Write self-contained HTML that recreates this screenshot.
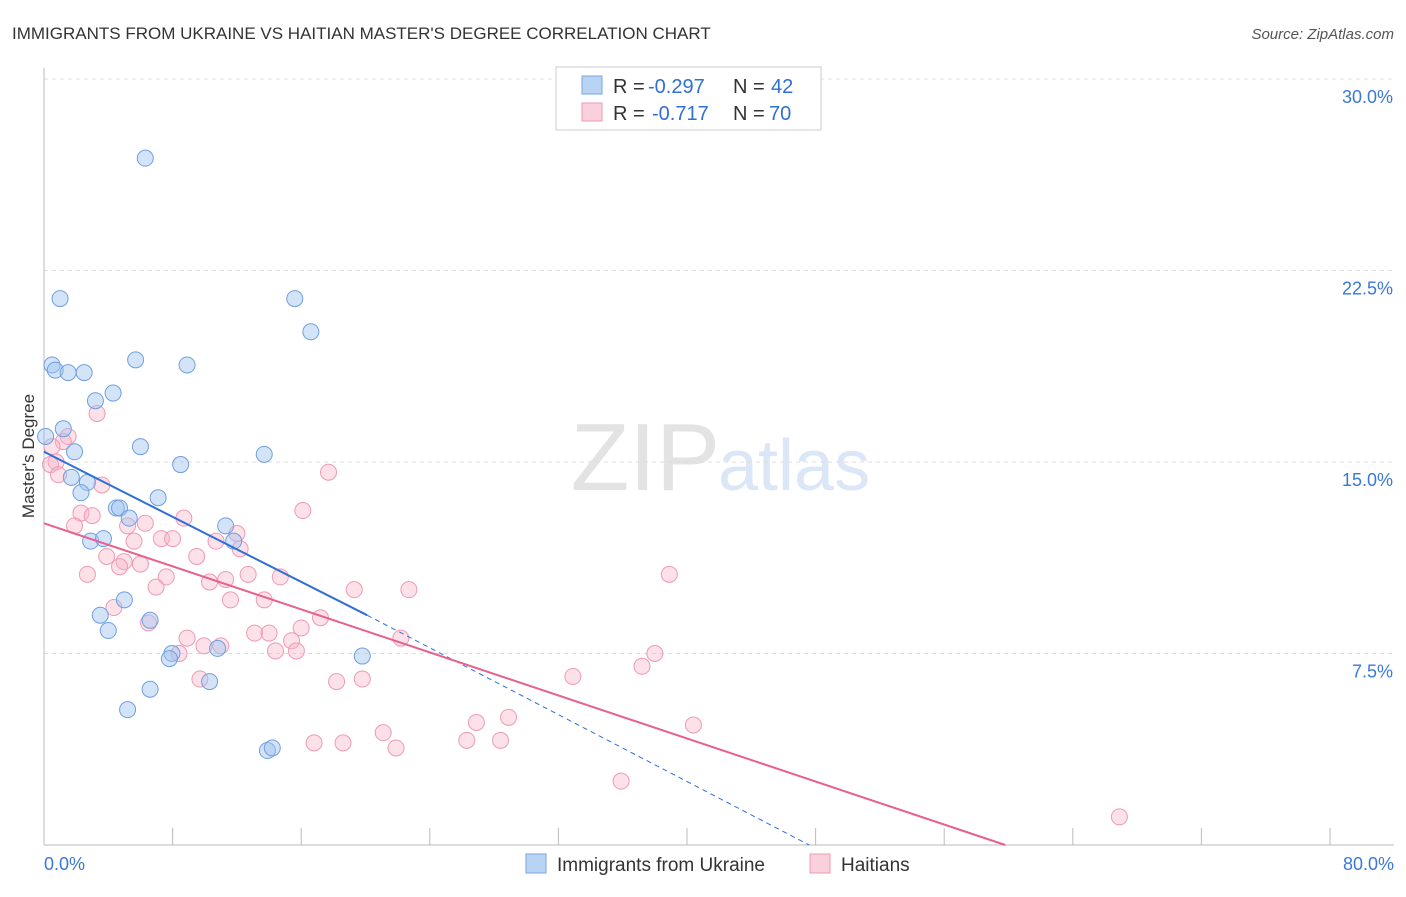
<!DOCTYPE html>
<html><head><meta charset="utf-8">
<style>
body{margin:0;background:#fff;font-family:"Liberation Sans",sans-serif;}
svg text{font-family:"Liberation Sans",sans-serif;}
</style></head>
<body>
<svg id="chart" width="1406" height="892" viewBox="0 0 1406 892" xmlns="http://www.w3.org/2000/svg">
<text x="12" y="39" font-size="17" fill="#333">IMMIGRANTS FROM UKRAINE VS HAITIAN MASTER'S DEGREE CORRELATION CHART</text>
<text x="1394" y="39" font-size="15" fill="#555" text-anchor="end" font-style="italic">Source: ZipAtlas.com</text>
<text x="720" y="490" font-size="96" fill="#e3e3e3" text-anchor="end" font-family="Liberation Serif">ZIP</text>
<text x="718" y="490" font-size="72" fill="#dbe7f6">atlas</text>
<text transform="translate(34,456) rotate(-90)" font-size="17" fill="#333" text-anchor="middle">Master's Degree</text>
<g id="grid"></g>
<g id="axes"></g>
<g id="pts"></g>
<g id="trend"></g>
<g>
<rect x="556" y="67" width="265" height="63" fill="#fff" stroke="#ccc"/>
<rect x="582" y="76" width="20" height="18" fill="#b9d3f5" stroke="#7ba6e0"/>
<rect x="582" y="103" width="20" height="18" fill="#fbd0dd" stroke="#ee9ab4"/>
<text x="613" y="93" font-size="20" fill="#333">R =</text>
<text x="648" y="93" font-size="20" fill="#2f6fd6">-0.297</text>
<text x="733" y="93" font-size="20" fill="#333">N =</text>
<text x="771" y="93" font-size="20" fill="#2f6fd6">42</text>
<text x="613" y="120" font-size="20" fill="#333">R =</text>
<text x="652" y="120" font-size="20" fill="#2f6fd6">-0.717</text>
<text x="733" y="120" font-size="20" fill="#333">N =</text>
<text x="769" y="120" font-size="20" fill="#2f6fd6">70</text>
</g>
<g>
<rect x="526" y="854" width="20" height="19" fill="#b9d3f5" stroke="#7ba6e0"/>
<text x="557" y="871" font-size="19" fill="#333">Immigrants from Ukraine</text>
<rect x="810" y="854" width="20" height="19" fill="#fbd0dd" stroke="#ee9ab4"/>
<text x="841" y="871" font-size="19" fill="#333">Haitians</text>
</g>
</svg>
<script>
const yTicks=[7.5,15,22.5,30];
const yTickLabels=["7.5%","15.0%","22.5%","30.0%"];
const xTicks=[0,8,16,24,32,40,48,56,64,72,80];
const ukraineX=[6.3,1.0,15.6,16.6,0.5,0.7,1.5,2.5,5.7,8.9,4.3,3.2,1.2,0.1,1.9,6.0,13.7,8.5,1.7,2.7,2.3,7.1,4.5,4.7,5.3,11.3,11.8,2.9,3.7,5.0,3.5,4.0,6.6,7.96,7.8,10.8,10.3,6.6,19.8,5.2,13.9,14.2];
const ukraineY=[26.9,21.4,21.4,20.1,18.8,18.6,18.5,18.5,19.0,18.8,17.7,17.4,16.3,16.0,15.4,15.6,15.3,14.9,14.4,14.2,13.8,13.6,13.2,13.2,12.8,12.5,11.9,11.9,12.0,9.6,9.0,8.4,8.8,7.5,7.3,7.7,6.4,6.1,7.4,5.3,3.7,3.8];
const haitiX=[3.3,1.5,1.2,0.5,0.75,0.4,0.9,3.6,2.3,3.0,1.9,6.3,5.2,8.7,12.0,16.1,17.7,5.6,7.3,8.0,10.7,12.2,3.9,4.98,4.7,6.0,2.7,7.6,9.5,12.7,14.7,11.3,10.3,6.97,19.3,22.7,38.9,4.35,11.6,13.7,6.5,17.2,16.0,13.1,14.0,22.2,8.9,15.4,9.95,11.0,8.4,14.4,15.7,38.0,37.2,9.7,18.2,19.8,32.9,28.9,26.9,40.4,21.1,16.8,18.6,21.9,26.3,28.4,35.9,66.9];
const haitiY=[16.9,16.0,15.8,15.6,15.0,14.9,14.5,14.1,13.0,12.9,12.5,12.6,12.5,12.8,12.2,13.1,14.6,11.9,12.0,12.0,11.9,11.6,11.3,11.1,10.9,11.0,10.6,10.5,11.3,10.6,10.5,10.4,10.3,10.1,10.0,10.0,10.6,9.3,9.6,9.6,8.7,8.9,8.5,8.3,8.3,8.1,8.1,8.0,7.8,7.8,7.5,7.6,7.6,7.5,7.0,6.5,6.4,6.5,6.6,5.0,4.8,4.7,4.4,4.0,4.0,3.8,4.1,4.1,2.5,1.1];
const ukraineTrend=[[0,15.4],[20.1,9.0]];
const ukraineDash=[[20.1,9.0],[47.6,0]];
const haitiTrend=[[0,12.6],[59.8,0]];
const X0=44,X1=1330,Y0=845,YS=(845-79)/30;
const sx=v=>X0+v*(X1-X0)/80, sy=v=>Y0-v*YS;
const NS="http://www.w3.org/2000/svg";
function mk(t,a,p){const e=document.createElementNS(NS,t);for(const k in a)e.setAttribute(k,a[k]);p.appendChild(e);return e;}
const grid=document.getElementById('grid'),axes=document.getElementById('axes'),pts=document.getElementById('pts'),tr=document.getElementById('trend');
yTicks.forEach((v,i)=>{
 const l=mk('line',{x1:44,x2:1394,y1:sy(v),y2:sy(v),stroke:'#ddd','stroke-dasharray':'4,4'},grid);
 
 
 const t=mk('text',{x:1393,y:sy(v)+24,'font-size':18,fill:'#3a78d8','text-anchor':'end'},axes);
 t.textContent=yTickLabels[i];
 
 
});
const xl=mk('line',{x1:44,x2:1394,y1:845,y2:845,stroke:'#bbb'},axes);


const yl=mk('line',{x1:44,x2:44,y1:68,y2:845,stroke:'#bbb'},axes);


xTicks.forEach(v=>{
 const l=mk('line',{x1:sx(v),x2:sx(v),y1:828,y2:845,stroke:'#bbb'},axes);
 
 
});
const xa=mk('text',{x:44,y:870,'font-size':18,fill:'#3a78d8'},axes);xa.textContent='0.0%';


const xb=mk('text',{x:1394,y:870,'font-size':18,fill:'#3a78d8','text-anchor':'end'},axes);xb.textContent='80.0%';


haitiX.forEach((x,i)=>{
 const c=mk('circle',{cx:sx(x),cy:sy(haitiY[i]),r:8,fill:'rgba(248,180,200,0.4)',stroke:'#ee9ab4','stroke-width':1},pts);
 
 
});
ukraineX.forEach((x,i)=>{
 const c=mk('circle',{cx:sx(x),cy:sy(ukraineY[i]),r:8,fill:'rgba(160,195,240,0.45)',stroke:'#6f9fe0','stroke-width':1},pts);
 
 
});
const l1=mk('line',{x1:sx(ukraineTrend[0][0]),y1:sy(ukraineTrend[0][1]),x2:sx(ukraineTrend[1][0]),y2:sy(ukraineTrend[1][1]),stroke:'#2f6fd6','stroke-width':2},tr);


const l2=mk('line',{x1:sx(ukraineDash[0][0]),y1:sy(ukraineDash[0][1]),x2:sx(ukraineDash[1][0]),y2:sy(ukraineDash[1][1]),stroke:'#2f6fd6','stroke-width':1,'stroke-dasharray':'5,4'},tr);


const l3=mk('line',{x1:sx(haitiTrend[0][0]),y1:sy(haitiTrend[0][1]),x2:sx(haitiTrend[1][0]),y2:sy(haitiTrend[1][1]),stroke:'#e8608c','stroke-width':2},tr);


</script>
</body></html>
